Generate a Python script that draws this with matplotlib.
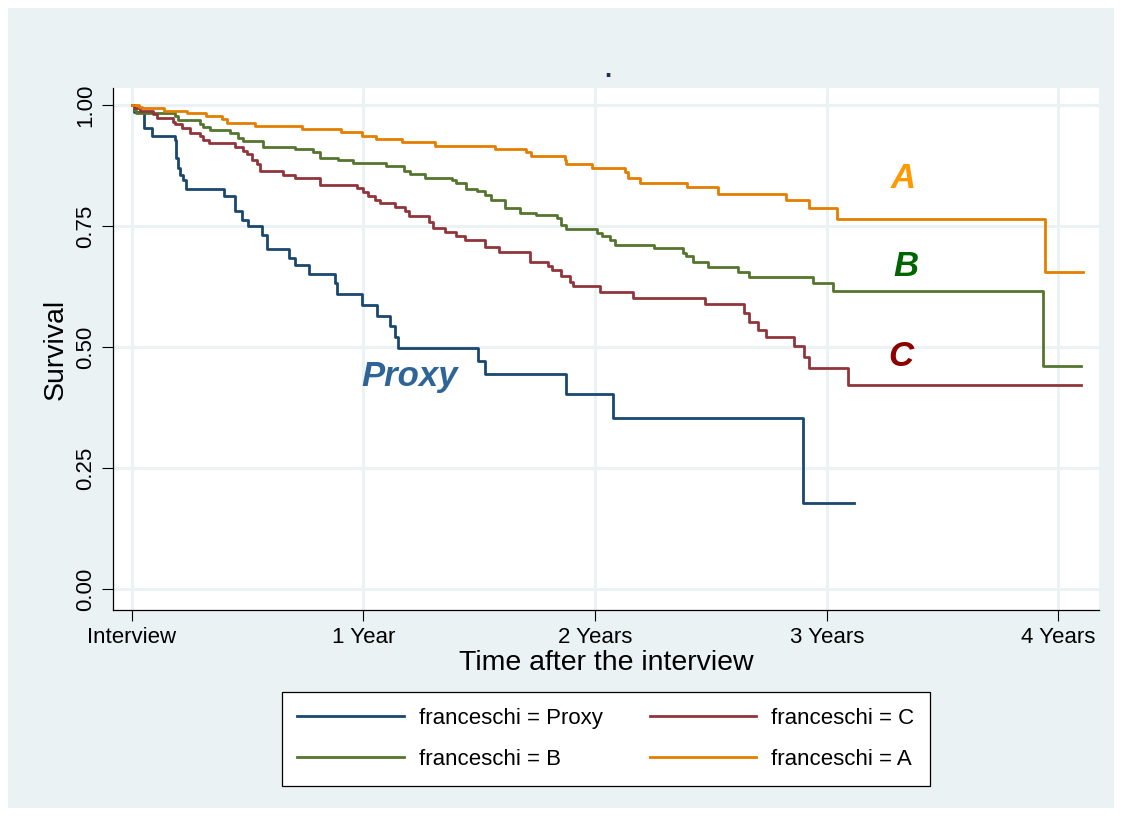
""" Kaplan-Meier survival curves by franceschi group """

import matplotlib.pyplot as plt
from matplotlib.patches import Rectangle

plt.rcParams['font.family'] = ['Liberation Sans', 'DejaVu Sans']

### Step times (years after interview) and survival after each step
proxy_t = [0, 0.01, 0.055, 0.087, 0.188, 0.192, 0.200, 0.210, 0.222, 0.236, 0.399, 0.446, 0.475,
           0.502, 0.563, 0.583, 0.679, 0.705, 0.765, 0.878, 0.885, 0.993, 1.059, 1.115, 1.136,
           1.149, 1.496, 1.524, 1.877, 2.078, 2.897, 3.116]
proxy_s = [1.0, 0.985, 0.952, 0.935, 0.928, 0.89, 0.87, 0.855, 0.845, 0.826, 0.811, 0.78, 0.762,
           0.749, 0.731, 0.703, 0.684, 0.669, 0.651, 0.632, 0.609, 0.587, 0.565, 0.543, 0.520,
           0.498, 0.471, 0.444, 0.403, 0.353, 0.177, 0.177]

c_t = [0, 0.01, 0.037, 0.094, 0.109, 0.178, 0.188, 0.216, 0.252, 0.295, 0.310, 0.335, 0.446,
       0.482, 0.497, 0.518, 0.540, 0.554, 0.655, 0.705, 0.813, 0.971, 1.000, 1.021, 1.050, 1.072,
       1.136, 1.179, 1.198, 1.284, 1.301, 1.352, 1.399, 1.438, 1.524, 1.586, 1.721, 1.797, 1.816,
       1.855, 1.894, 1.903, 2.023, 2.164, 2.473, 2.643, 2.663, 2.703, 2.739, 2.858, 2.904, 2.922,
       3.091, 4.097]
c_s = [1.0, 0.993, 0.988, 0.981, 0.972, 0.965, 0.960, 0.953, 0.943, 0.935, 0.928, 0.921, 0.914,
       0.905, 0.898, 0.886, 0.879, 0.864, 0.855, 0.849, 0.835, 0.828, 0.821, 0.812, 0.804, 0.797,
       0.789, 0.780, 0.771, 0.759, 0.746, 0.737, 0.729, 0.721, 0.707, 0.696, 0.676, 0.668, 0.659,
       0.647, 0.635, 0.625, 0.614, 0.601, 0.588, 0.570, 0.552, 0.536, 0.520, 0.501, 0.480, 0.457,
       0.421, 0.421]

b_t = [0, 0.01, 0.02, 0.188, 0.202, 0.295, 0.310, 0.339, 0.425, 0.461, 0.482, 0.568, 0.705,
       0.784, 0.813, 0.892, 0.956, 1.100, 1.175, 1.201, 1.266, 1.381, 1.402, 1.442, 1.489, 1.524,
       1.553, 1.611, 1.675, 1.747, 1.834, 1.855, 1.877, 2.009, 2.032, 2.063, 2.085, 2.253, 2.379,
       2.391, 2.423, 2.487, 2.617, 2.664, 2.940, 3.026, 3.935, 4.097]
b_s = [1.0, 0.990, 0.983, 0.977, 0.969, 0.961, 0.955, 0.948, 0.942, 0.932, 0.925, 0.914, 0.909,
       0.902, 0.891, 0.886, 0.881, 0.874, 0.864, 0.857, 0.850, 0.845, 0.838, 0.826, 0.822, 0.814,
       0.804, 0.787, 0.777, 0.772, 0.766, 0.752, 0.744, 0.735, 0.729, 0.721, 0.711, 0.704, 0.694,
       0.687, 0.676, 0.666, 0.654, 0.645, 0.632, 0.615, 0.461, 0.461]

a_t = [0, 0.034, 0.044, 0.140, 0.241, 0.321, 0.389, 0.411, 0.533, 0.734, 0.906, 0.993, 1.057,
       1.169, 1.309, 1.570, 1.704, 1.726, 1.869, 1.877, 1.987, 2.131, 2.142, 2.193, 2.397, 2.530,
       2.825, 2.923, 3.044, 3.944, 4.104]
a_s = [1.0, 0.995, 0.993, 0.988, 0.983, 0.977, 0.970, 0.963, 0.957, 0.951, 0.944, 0.936, 0.929,
       0.923, 0.916, 0.909, 0.902, 0.895, 0.887, 0.878, 0.869, 0.862, 0.850, 0.839, 0.830, 0.817,
       0.804, 0.787, 0.764, 0.655, 0.655]

tick_pos = [0, 1, 2, 3, 4]
tick_labels = ['Interview', '1 Year', '2 Years', '3 Years', '4 Years']
y_ticks = [0.0, 0.25, 0.5, 0.75, 1.0]

### Figure and background panel
fig = plt.figure( figsize=( 11.22 , 8.16 ) , dpi=100 )
fig.patch.set_facecolor( 'white' )
fig.patches.append( Rectangle( ( 8/1122 , 8/816 ) , 1106/1122 , 800/816 ,
                               transform=fig.transFigure , facecolor='#EAF2F3' ,
                               edgecolor='none' , zorder=-10 ) )

ax = fig.add_axes( [ 113/1122 , 1 - 610/816 , 986/1122 , 522/816 ] )
ax.set_facecolor( 'white' )

### Survival curves
lines = []
for t, s, color, name in [ ( proxy_t , proxy_s , '#1A476F' , 'Proxy' ),
                           ( b_t , b_s , '#55752F' , 'B' ),
                           ( c_t , c_s , '#90353B' , 'C' ),
                           ( a_t , a_s , '#E37E00' , 'A' ) ]:
    line, = ax.step( t , s , where='post' , color=color , linewidth=2.0 ,
                     label='franceschi = ' + name , zorder=3 )
    lines.append( line )

### Group labels
label_style = dict( fontsize=25 , fontweight='bold' , fontstyle='italic' ,
                    ha='center' , va='center' )
ax.text( 1.20 , 0.438 , 'Proxy' , color='#2F6497' , **label_style )
ax.text( 3.33 , 0.849 , 'A' , color='#FF9900' , **label_style )
ax.text( 3.34 , 0.667 , 'B' , color='#006400' , **label_style )
ax.text( 3.32 , 0.481 , 'C' , color='#8B0000' , **label_style )

### Axes setup
ax.set_xlim( -0.080 , 4.175 )
ax.set_ylim( -0.0434 , 1.035 )
ax.set_xticks( tick_pos )
ax.set_xticklabels( tick_labels , fontsize=16 )
ax.set_yticks( y_ticks )
ax.set_yticklabels( [ '%.2f' % v for v in y_ticks ] , fontsize=16 , rotation=90 , va='center' )
ax.tick_params( direction='out' , length=8 , width=0.8 , color='black' , pad=4 )

ax.grid( True , color='#EAF2F3' , linewidth=2.2 , zorder=1 )
ax.set_axisbelow( True )
for side in [ 'top' , 'right' ]:
    ax.spines[ side ].set_visible( False )
for side in [ 'left' , 'bottom' ]:
    ax.spines[ side ].set_linewidth( 0.9 )

ax.set_xlabel( 'Time after the interview' , fontsize=20.5 , labelpad=2 )
ax.set_ylabel( 'Survival' , fontsize=20.5 , labelpad=5 )

fig.text( 608/1122 , 1 - 70/816 , '.' , fontsize=18 , fontweight='bold' , color='#1E2F4F' ,
          ha='center' , va='center' )

### Legend: Proxy, B in first column, C, A in second
leg = fig.legend( handles=lines , ncol=2 , loc='center' ,
                  bbox_to_anchor=( 606/1122 , 1 - 739/816 ) , fontsize=16 ,
                  handlelength=4.8 , handletextpad=0.68 , columnspacing=2.1 ,
                  labelspacing=0.9 , borderpad=0.7 , fancybox=False ,
                  frameon=True , edgecolor='black' , facecolor='white' , framealpha=1 )
leg.get_frame().set_linewidth( 0.9 )

fig.savefig( 'out.png' , dpi=100 , facecolor=fig.get_facecolor() )
